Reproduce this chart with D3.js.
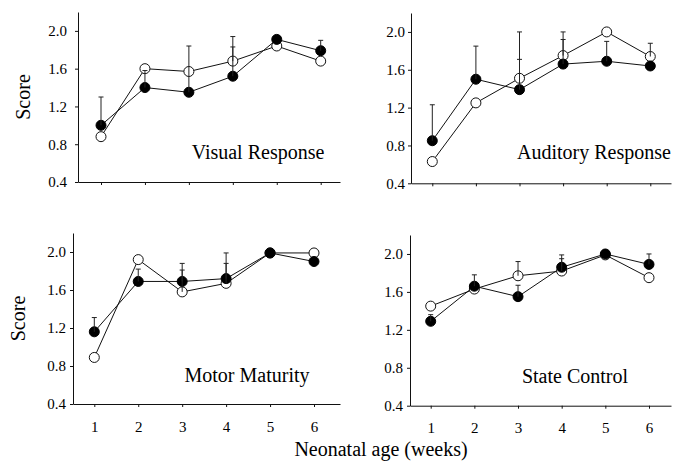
<!DOCTYPE html>
<html><head><meta charset="utf-8">
<script src="https://cdn.jsdelivr.net/npm/d3@7"></script>
<style>
body{margin:0;background:#fff}
svg{display:block}
text{font-family:"Liberation Serif","Times New Roman",serif;fill:#000}
.tick text{font-family:"Liberation Serif","Times New Roman",serif !important}
</style>
</head><body>
<svg id="chart" width="678" height="463"></svg>
<script>
// ---------- data ----------
const weeks = [1, 2, 3, 4, 5, 6];
const yTickValues = [0.4, 0.8, 1.2, 1.6, 2.0];
const panelTitles = ["Visual Response", "Auditory Response", "Motor Maturity", "State Control"];
const yLabel = "Score";
const xLabel = "Neonatal age (weeks)";

// filled circles series
const visualFilled   = [1.00, 1.40, 1.35, 1.52, 1.91, 1.79];
const auditoryFilled = [0.85, 1.50, 1.39, 1.66, 1.69, 1.64];
const motorFilled    = [1.16, 1.69, 1.69, 1.72, 1.99, 1.90];
const stateFilled    = [1.29, 1.66, 1.55, 1.86, 2.00, 1.89];
// open circles series
const visualOpen     = [0.88, 1.60, 1.57, 1.68, 1.84, 1.68];
const auditoryOpen   = [0.63, 1.25, 1.51, 1.75, 2.00, 1.74];
const motorOpen      = [0.89, 1.92, 1.58, 1.67, 1.99, 1.99];
const stateOpen      = [1.45, 1.63, 1.77, 1.82, 1.99, 1.75];
// upper ends of error bars (null = none drawn)
const visualFilledErr   = [1.30, 1.58, 1.84, 1.94, null, 1.90];
const visualOpenErr     = [null, null, null, 1.83, null, null];
const auditoryFilledErr = [1.23, 1.85, 1.71, 1.92, 1.90, null];
const auditoryOpenErr   = [null, null, 2.00, 2.00, null, 1.88];
const motorFilledErr    = [1.31, 1.82, 1.81, 1.88, null, null];
const motorOpenErr      = [null, null, 1.88, 1.99, null, null];
const stateFilledErr    = [1.36, 1.78, 1.67, 1.95, null, 2.00];
const stateOpenErr      = [null, null, 1.92, 1.99, null, null];

const panelData = [
  {filled: visualFilled, open: visualOpen, fErr: visualFilledErr, oErr: visualOpenErr},
  {filled: auditoryFilled, open: auditoryOpen, fErr: auditoryFilledErr, oErr: auditoryOpenErr},
  {filled: motorFilled, open: motorOpen, fErr: motorFilledErr, oErr: motorOpenErr},
  {filled: stateFilled, open: stateOpen, fErr: stateFilledErr, oErr: stateOpenErr}
];

// ---------- layout ----------
const layout = [
  {axisX: 78,  x1: 101,   x6: 320.7, xEnd: 340, yBot: 182,   yTop: 12,  labels: false, score: true,  scoreX: 30, tickPad: 8, titleX: 258, titleY: 158.5},
  {axisX: 411, x1: 432.3, x6: 650.3, xEnd: 671, yBot: 183.3, yTop: 13,  labels: false, score: false, tickPad: 3, titleX: 594, titleY: 159},
  {axisX: 73,  x1: 94.3,  x6: 314,   xEnd: 340, yBot: 404,   yTop: 233, labels: true,  score: true,  scoreX: 25, tickPad: 4, titleX: 247, titleY: 381.5},
  {axisX: 410, x1: 430.7, x6: 649,   xEnd: 671, yBot: 405.7, yTop: 235, labels: true,  score: false, tickPad: 4, titleX: 575, titleY: 383}
];

const svg = d3.select("#chart");

layout.forEach((L, i) => {
  const D = panelData[i];
  const base = d3.scaleLinear().domain([1, 6]).range([L.x1, L.x6]);
  const x = d3.scaleLinear().domain([base.invert(L.axisX), base.invert(L.xEnd)]).range([L.axisX, L.xEnd]);
  const y = d3.scaleLinear().domain([0.4, 2.2]).range([L.yBot, L.yTop]);
  const g = svg.append("g");

  // y axis
  const ya = g.append("g").attr("transform", `translate(${L.axisX},0)`)
    .call(d3.axisLeft(y).tickValues(yTickValues).tickFormat(d3.format(".1f"))
      .tickSize(3).tickSizeOuter(0).tickPadding(L.tickPad));
  ya.attr("font-family", null);
  ya.selectAll("text").style("font-size", "15px");
  ya.select(".domain").attr("stroke", "#111");
  ya.selectAll(".tick line").attr("stroke", "#111");

  // x axis
  const xa = g.append("g").attr("transform", `translate(0,${L.yBot})`)
    .call(d3.axisBottom(x).tickValues(weeks)
      .tickFormat(L.labels ? d3.format("d") : () => "")
      .tickSize(3).tickSizeOuter(0).tickPadding(14));
  xa.attr("font-family", null);
  xa.selectAll("text").style("font-size", "15px");
  xa.select(".domain").attr("stroke", "#111");
  xa.selectAll(".tick line").attr("stroke", "#111");

  const line = d3.line().x((d, j) => x(weeks[j])).y(d => y(d));
  g.append("path").datum(D.open).attr("d", line).attr("fill", "none").attr("stroke", "#111").attr("stroke-width", 1);
  g.append("path").datum(D.filled).attr("d", line).attr("fill", "none").attr("stroke", "#111").attr("stroke-width", 1);

  g.selectAll(".oc").data(D.open).enter().append("circle")
    .attr("cx", (d, j) => x(weeks[j])).attr("cy", d => y(d)).attr("r", 5)
    .attr("fill", "#fff").attr("stroke", "#111").attr("stroke-width", 1);
  g.selectAll(".fc").data(D.filled).enter().append("circle")
    .attr("cx", (d, j) => x(weeks[j])).attr("cy", d => y(d)).attr("r", 5)
    .attr("fill", "#000").attr("stroke", "#000");

  // error bars
  const bars = [];
  weeks.forEach((w, j) => {
    if (D.fErr[j] != null) bars.push({w, from: D.filled[j], to: D.fErr[j]});
    if (D.oErr[j] != null) bars.push({w, from: D.open[j], to: D.oErr[j]});
  });
  bars.forEach(b => {
    g.append("line").attr("x1", x(b.w)).attr("x2", x(b.w))
      .attr("y1", y(b.from)).attr("y2", y(b.to)).attr("stroke", "#222").attr("stroke-width", 1);
    g.append("line").attr("x1", x(b.w) - 2.5).attr("x2", x(b.w) + 2.5)
      .attr("y1", y(b.to)).attr("y2", y(b.to)).attr("stroke", "#222").attr("stroke-width", 1);
  });

  // panel title
  g.append("text").attr("x", L.titleX).attr("y", L.titleY).attr("text-anchor", "middle")
    .style("font-size", "20px").text(panelTitles[i]);

  if (L.score) {
    g.append("text").attr("transform", `translate(${L.scoreX},${(L.yTop + L.yBot) / 2}) rotate(-90)`)
      .attr("text-anchor", "middle").style("font-size", "20px").text(yLabel);
  }
});

svg.append("text").attr("x", 381).attr("y", 456).attr("text-anchor", "middle")
  .style("font-size", "20px").text(xLabel);
</script>
</body></html>
